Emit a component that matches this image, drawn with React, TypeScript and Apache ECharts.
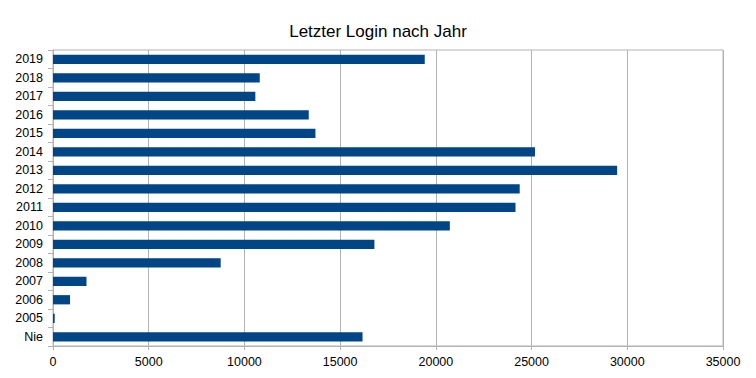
import React, { useEffect, useRef } from "react";
import * as echarts from "echarts";

const categories = ["Nie", "2005", "2006", "2007", "2008", "2009", "2010", "2011", "2012", "2013", "2014", "2015", "2016", "2017", "2018", "2019"];
const values = [16170, 90, 890, 1750, 8760, 16790, 20730, 24160, 24380, 29470, 25180, 13710, 13360, 10570, 10800, 19420];
const xTicks = { min: 0, max: 35000, interval: 5000 };
const title = "Letzter Login nach Jahr";

export default function App() {
  const ref = useRef<HTMLDivElement>(null);
  useEffect(() => {
    const chart = echarts.init(ref.current!, null, { renderer: "svg" });
    const font = "'Liberation Sans', Arial, sans-serif";
    chart.setOption({
      animation: false,
      title: {
        text: title,
        left: "center",
        top: 18,
        textStyle: { fontFamily: font, fontSize: 17, fontWeight: "normal", color: "#000" },
      },
      grid: {
        left: 53,
        right: 33,
        top: 50,
        bottom: 32,
        show: true,
        borderColor: "#b3b3b3",
        borderWidth: 1,
      },
      xAxis: {
        type: "value",
        min: xTicks.min,
        max: xTicks.max,
        interval: xTicks.interval,
        axisLine: { show: true, lineStyle: { color: "#b3b3b3" } },
        axisTick: { show: true, length: 4, lineStyle: { color: "#b3b3b3" } },
        splitLine: { show: true, lineStyle: { color: "#b3b3b3", width: 1 } },
        axisLabel: { fontFamily: font, fontSize: 12.5, color: "#000", margin: 9, formatter: (v: number) => String(v) },
      },
      yAxis: {
        type: "category",
        data: categories,
        boundaryGap: true,
        axisLine: { show: true, lineStyle: { color: "#b3b3b3" } },
        axisTick: { show: true, length: 5, interval: 0, lineStyle: { color: "#b3b3b3" } },
        splitLine: { show: false },
        axisLabel: { fontFamily: font, fontSize: 12.5, color: "#000", margin: 10, interval: 0 },
      },
      series: [
        {
          type: "bar",
          data: values,
          barWidth: "50%",
          itemStyle: { color: "#004586" },
        },
      ],
    });
    return () => chart.dispose();
  }, []);
  return (
    <div
      ref={ref}
      style={{ position: "fixed", left: 0, top: 0, width: 756, height: 378, background: "#fff" }}
    />
  );
}
